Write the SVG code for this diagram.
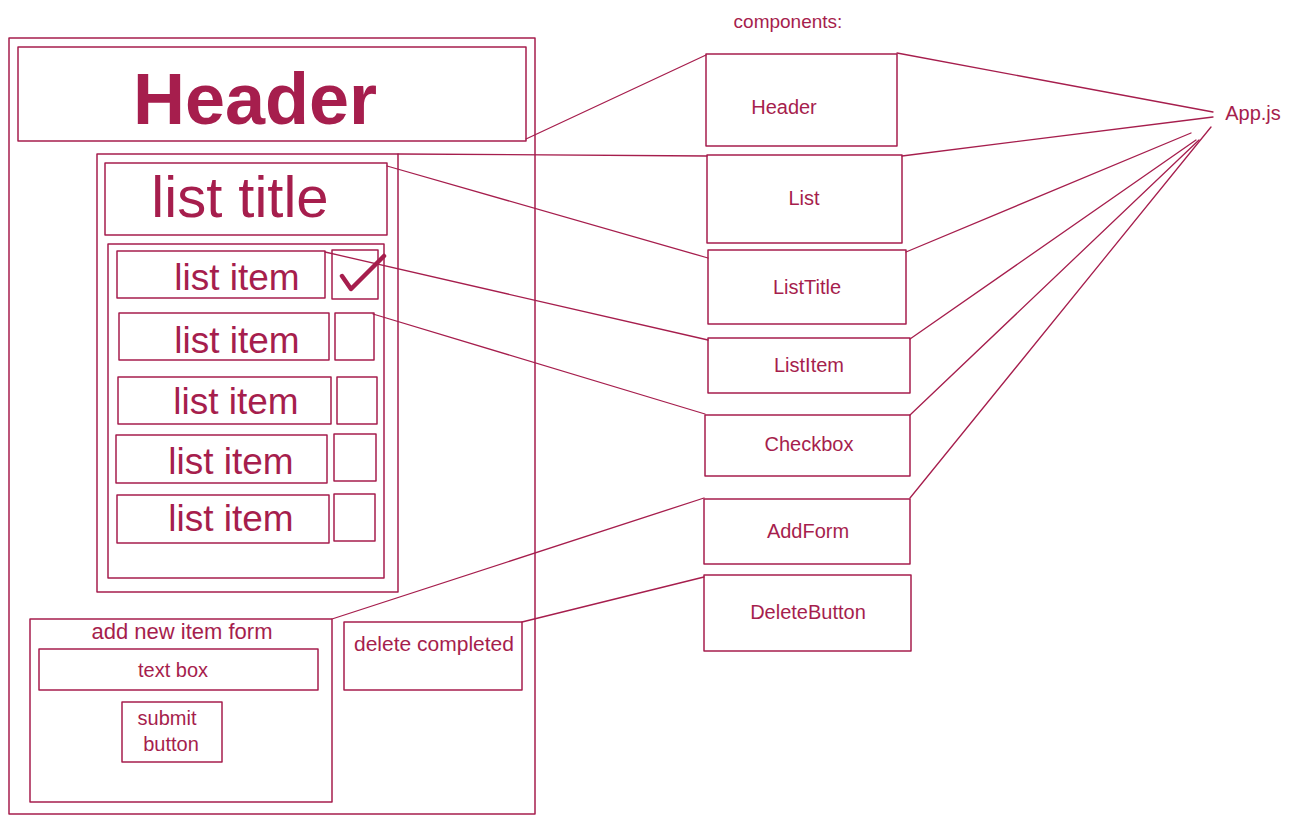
<svg xmlns="http://www.w3.org/2000/svg" width="1291" height="824" viewBox="0 0 1291 824">
<style>
.b{fill:none;stroke:#a61e4d;stroke-width:1.5;stroke-linejoin:round}
.c{fill:none;stroke:#a61e4d;stroke-width:1.3;stroke-linecap:round}
text{fill:#a61e4d;font-family:"Liberation Sans",Arial,sans-serif;text-anchor:middle}
.s{font-size:20px}
.m{font-size:37px}
</style>
<rect width="1291" height="824" fill="#ffffff"/>
<g id="frame"><rect class="b" x="9" y="38" width="526" height="776"/></g>
<g id="header-box"><rect class="b" x="18" y="47" width="508" height="94"/><text x="255" y="124" style="font-size:72px;font-weight:bold">Header</text></g>
<g id="list-box"><rect class="b" x="97" y="154" width="301" height="438"/></g>
<g id="list-title"><rect class="b" x="105" y="163" width="282" height="72"/><text x="240" y="217" style="font-size:58px">list title</text></g>
<g id="items"><rect class="b" x="108" y="244" width="276" height="334"/></g>
<g id="item1"><rect class="b" x="117" y="251" width="208" height="47"/><text class="m" x="237" y="290">list item</text></g>
<g id="check1"><rect class="b" x="332" y="250" width="46" height="49"/><path d="M342 276 L351 289 L384 256" fill="none" stroke="#a61e4d" stroke-width="4.5" stroke-linecap="round" stroke-linejoin="round"/></g>
<g id="item2"><rect class="b" x="119" y="313" width="210" height="47"/><text class="m" x="237" y="353">list item</text></g>
<g id="check2"><rect class="b" x="335" y="313" width="39" height="47"/></g>
<g id="item3"><rect class="b" x="118" y="377" width="213" height="47"/><text class="m" x="236" y="414">list item</text></g>
<g id="check3"><rect class="b" x="337" y="377" width="40" height="47"/></g>
<g id="item4"><rect class="b" x="116" y="435" width="211" height="48"/><text class="m" x="231" y="474">list item</text></g>
<g id="check4"><rect class="b" x="334" y="434" width="42" height="47"/></g>
<g id="item5"><rect class="b" x="117" y="495" width="212" height="48"/><text class="m" x="231" y="531">list item</text></g>
<g id="check5"><rect class="b" x="334" y="494" width="41" height="47"/></g>
<g id="add-form"><rect class="b" x="30" y="619" width="302" height="183"/><text x="182" y="639" style="font-size:22px">add new item form</text></g>
<g id="text-box"><rect class="b" x="39" y="649" width="279" height="41"/><text class="s" x="173" y="677">text box</text></g>
<g id="submit"><rect class="b" x="122" y="702" width="100" height="60"/><text class="s" x="167" y="725">submit</text><text class="s" x="171" y="751">button</text></g>
<g id="delete"><rect class="b" x="344" y="622" width="178" height="68"/><text class="s" x="434" y="651" style="font-size:21px">delete completed</text></g>
<g id="components-label"><text x="788" y="28" style="font-size:19px">components:</text></g>
<g id="c-header"><rect class="b" x="706" y="54" width="191" height="92"/><text class="s" x="784" y="114">Header</text></g>
<g id="c-list"><rect class="b" x="707" y="155" width="195" height="88"/><text class="s" x="804" y="205">List</text></g>
<g id="c-listtitle"><rect class="b" x="708" y="250" width="198" height="74"/><text class="s" x="807" y="294">ListTitle</text></g>
<g id="c-listitem"><rect class="b" x="708" y="338" width="202" height="55"/><text class="s" x="809" y="372">ListItem</text></g>
<g id="c-checkbox"><rect class="b" x="705" y="415" width="205" height="61"/><text class="s" x="809" y="451">Checkbox</text></g>
<g id="c-addform"><rect class="b" x="704" y="499" width="206" height="65"/><text class="s" x="808" y="538">AddForm</text></g>
<g id="c-delete"><rect class="b" x="704" y="575" width="207" height="76"/><text class="s" x="808" y="619">DeleteButton</text></g>
<g id="app"><text class="s" x="1253" y="120">App.js</text></g>
<g id="connectors">
<line class="c" x1="526" y1="139" x2="706" y2="55"/>
<line class="c" x1="398" y1="154" x2="707" y2="156"/>
<line class="c" x1="387" y1="166" x2="708" y2="258"/>
<line class="c" x1="325" y1="252" x2="708" y2="340"/>
<line class="c" x1="373" y1="314" x2="705" y2="414"/>
<line class="c" x1="332" y1="619" x2="704" y2="498"/>
<line class="c" x1="522" y1="622" x2="704" y2="577"/>
<line class="c" x1="897" y1="53" x2="1213" y2="112"/>
<line class="c" x1="902" y1="156" x2="1213" y2="117"/>
<line class="c" x1="906" y1="252" x2="1191" y2="133"/>
<line class="c" x1="910" y1="339" x2="1196" y2="140"/>
<line class="c" x1="910" y1="415" x2="1199" y2="140"/>
<line class="c" x1="910" y1="498" x2="1211" y2="127"/>
</g>
</svg>
